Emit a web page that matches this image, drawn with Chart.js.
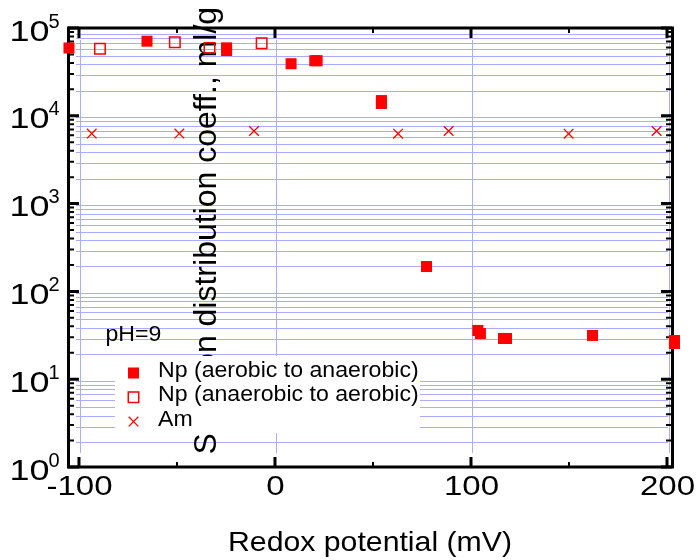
<!DOCTYPE html>
<html>
<head>
<meta charset="utf-8">
<script src="https://cdn.jsdelivr.net/npm/chart.js@4/dist/chart.umd.min.js"></script>
<style>
  html, body { margin: 0; padding: 0; background: #fff; }
  canvas { display: block; }
</style>
</head>
<body>
<canvas id="kdChart" width="696" height="560"></canvas>
<script>
// Np, aerobic -> anaerobic (filled squares); replicate runs listed after the first pass
const npAeroX = [-105.1, -65.3, -24.7, 8.2, 20.3, 54.3, 77.3, 103.5, 116.6, 162.0, 203.8, -24.7, 21.5, 54.3, 104.8, 118.1, 203.8];
const npAeroY = [59200, 70800, 59400, 39200, 42400, 14900, 192, 35.9, 29.1, 31.5, 27.6, 55400, 42400, 13800, 33.1, 29.1, 25.5];

// Np, anaerobic -> aerobic (open squares)
const npAnaeroX = [-89.3, -51.1, -33.4, -6.8];
const npAnaeroY = [58000, 68700, 59400, 67000];

// Am (crosses)
const amX = [-93.5, -48.8, -10.7, 62.8, 88.6, 149.8, 194.7];
const amY = [6280, 6280, 6710, 6250, 6710, 6250, 6710];

const seriesLabels = ["Np (aerobic to anaerobic)", "Np (anaerobic to aerobic)", "Am"];

const xTickValues = [-100, 0, 100, 200];
const xMinorValues = [-50, 50, 150];
const yExponents = [0, 1, 2, 3, 4, 5];

const RED = "#ff0000";
const GRID = "rgb(172,172,255)";
const FONT = "'Liberation Sans', Arial, sans-serif";

function pts(xs, ys) {
    return xs.map((x, i) => ({x: x, y: ys[i]}));
}

// draw text squeezed/stretched horizontally
function stretchText(ctx, txt, x, y, size, sx, align) {
    ctx.save();
    ctx.translate(x, y);
    ctx.scale(sx, 1);
    ctx.font = size + "px " + FONT;
    ctx.textAlign = align;
    ctx.textBaseline = "alphabetic";
    ctx.fillText(txt, 0, 0);
    ctx.restore();
}

const framePlugin = {
    id: "frame",
    beforeDatasetsDraw(chart) {
        const ctx = chart.ctx;
        const a = chart.chartArea;
        const xs = chart.scales.x, ys = chart.scales.y;
        ctx.save();

        // grid, slightly offset like the original
        ctx.strokeStyle = GRID;
        ctx.lineWidth = 1;
        ctx.beginPath();
        for (let e = 0; e < 5; e++) {
            for (let m = 1; m <= 9; m++) {
                if (e === 0 && m === 1) continue;
                const py = Math.round(ys.getPixelForValue(m * Math.pow(10, e)) + 1.5) + 0.5;
                ctx.moveTo(a.left + 8, py);
                ctx.lineTo(a.right - 4, py);
            }
        }
        xTickValues.forEach(v => {
            const px = Math.round(xs.getPixelForValue(v) + 1.5) + 0.5;
            ctx.moveTo(px, a.top + 12);
            ctx.lineTo(px, a.bottom - 14);
        });
        ctx.stroke();

        // y title, drawn inside the plot
        ctx.fillStyle = "#000";
        ctx.save();
        ctx.translate(216, 454.5);
        ctx.rotate(-Math.PI / 2);
        ctx.font = "32px " + FONT;
        ctx.textAlign = "left";
        ctx.textBaseline = "alphabetic";
        ctx.fillText("Sorption distribution coeff., ml/g", 0, 0);
        ctx.restore();

        // frame
        ctx.strokeStyle = "#000";
        ctx.lineWidth = 3;
        ctx.strokeRect(a.left + 0.5, a.top, a.right - a.left, a.bottom - a.top);

        // y ticks (inward, both sides)
        yExponents.forEach(e => {
            const py = ys.getPixelForValue(Math.pow(10, e));
            ctx.lineWidth = 3;
            ctx.beginPath();
            ctx.moveTo(a.left, py); ctx.lineTo(a.left + 11, py);
            ctx.moveTo(a.right, py); ctx.lineTo(a.right - 11, py);
            ctx.stroke();
            if (e < 5) {
                ctx.lineWidth = 2;
                ctx.beginPath();
                for (let m = 2; m <= 9; m++) {
                    const q = ys.getPixelForValue(m * Math.pow(10, e));
                    ctx.moveTo(a.left, q); ctx.lineTo(a.left + 6, q);
                    ctx.moveTo(a.right, q); ctx.lineTo(a.right - 6, q);
                }
                ctx.stroke();
            }
            // label 10^e
            stretchText(ctx, "10", 49.5, py + 12.5, 30, 1.2, "right");
            ctx.font = "20px " + FONT;
            ctx.textAlign = "left";
            ctx.fillText(String(e), 48.5, py - 0.5);
        });

        // x ticks (inward, top and bottom)
        ctx.lineWidth = 3;
        ctx.beginPath();
        xTickValues.forEach(v => {
            const px = xs.getPixelForValue(v);
            ctx.moveTo(px, a.bottom); ctx.lineTo(px, a.bottom - 10);
            ctx.moveTo(px, a.top); ctx.lineTo(px, a.top + 10);
        });
        ctx.stroke();
        ctx.lineWidth = 2;
        ctx.beginPath();
        xMinorValues.forEach(v => {
            const px = xs.getPixelForValue(v);
            ctx.moveTo(px, a.bottom); ctx.lineTo(px, a.bottom - 5);
            ctx.moveTo(px, a.top); ctx.lineTo(px, a.top + 5);
        });
        ctx.stroke();
        xTickValues.forEach(v => {
            stretchText(ctx, String(v), xs.getPixelForValue(v) + 0.5, 495, 28, 1.18, "center");
        });

        // x title
        stretchText(ctx, "Redox potential (mV)", (a.left + a.right) / 2, 551, 28, 1.08, "center");
        ctx.restore();
    },
    afterDatasetsDraw(chart) {
        const ctx = chart.ctx;
        ctx.save();
        ctx.fillStyle = "#fff";
        ctx.fillRect(115, 356, 305, 77);
        chart.data.datasets.forEach((ds, i) => {
            ctx.fillStyle = ds.backgroundColor;
            ctx.strokeStyle = ds.borderColor;
            ctx.lineWidth = ds.borderWidth;
            Chart.helpers.drawPoint(ctx, {
                pointStyle: ds.pointStyle,
                radius: ds.pointRadius,
                borderWidth: ds.borderWidth,
                rotation: 0
            }, 133.5, 373 + 24.3 * i);
            ctx.fillStyle = "#000";
            stretchText(ctx, ds.label, 158, 377 + 24.4 * i, 22, 1.05, "left");
        });
        ctx.fillStyle = "#000";
        stretchText(ctx, "pH=9", 105.5, 341, 22, 1.05, "left");
        ctx.restore();
    }
};

new Chart(document.getElementById("kdChart"), {
    type: "scatter",
    data: {
        datasets: [
            {
                label: seriesLabels[0],
                data: pts(npAeroX, npAeroY),
                pointStyle: "rect",
                pointRadius: 7.8,
                backgroundColor: RED,
                borderColor: RED,
                borderWidth: 0,
                clip: false
            },
            {
                label: seriesLabels[1],
                data: pts(npAnaeroX, npAnaeroY),
                pointStyle: "rect",
                pointRadius: 7.4,
                backgroundColor: "rgba(0,0,0,0)",
                borderColor: RED,
                borderWidth: 1.5,
                clip: false
            },
            {
                label: seriesLabels[2],
                data: pts(amX, amY),
                pointStyle: "crossRot",
                pointRadius: 6.8,
                backgroundColor: RED,
                borderColor: RED,
                borderWidth: 1.3,
                clip: false
            }
        ]
    },
    options: {
        responsive: false,
        devicePixelRatio: 1,
        animation: false,
        events: [],
        layout: {padding: {left: 68, right: 24, top: 28, bottom: 93}},
        plugins: {legend: {display: false}, tooltip: {enabled: false}},
        scales: {
            x: {type: "linear", min: -105.6, max: 202.55, display: false},
            y: {type: "logarithmic", min: 1, max: 100000, display: false}
        }
    },
    plugins: [framePlugin]
});
</script>
</body>
</html>
